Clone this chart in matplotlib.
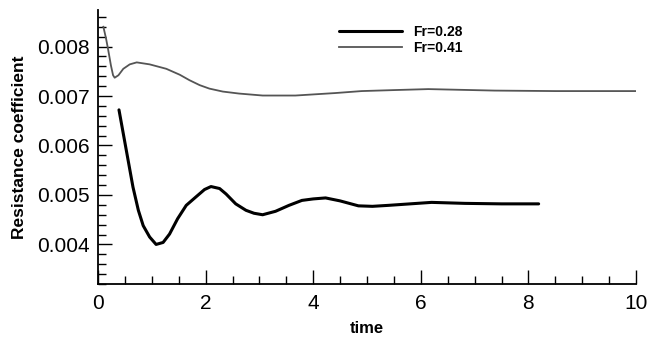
import matplotlib
matplotlib.use("Agg")
import matplotlib.pyplot as plt
from matplotlib.ticker import MultipleLocator, FormatStrFormatter

plt.rcParams['font.family'] = ['Liberation Sans', 'DejaVu Sans']

# Fr=0.28 (thick black)
t_028 = [0.39, 0.47, 0.56, 0.65, 0.75, 0.84, 0.96, 1.08, 1.21, 1.33, 1.48,
         1.64, 1.82, 1.98, 2.10, 2.26, 2.38, 2.56, 2.75, 2.90, 3.06, 3.30,
         3.55, 3.79, 4.00, 4.23, 4.50, 4.84, 5.10, 5.40, 5.80, 6.20, 6.82,
         7.50, 8.19]
cr_028 = [0.00672, 0.00624, 0.00570, 0.00516, 0.00469, 0.00438, 0.00415,
          0.00400, 0.00404, 0.00421, 0.00452, 0.00479, 0.00496, 0.00511,
          0.00517, 0.00513, 0.00502, 0.00482, 0.00469, 0.00463, 0.00460,
          0.00467, 0.00479, 0.00489, 0.00492, 0.00494, 0.00488, 0.00478,
          0.00477, 0.00479, 0.00482, 0.00485, 0.00483, 0.00482, 0.00482]

# Fr=0.41 (thin gray)
t_041 = [0.10, 0.15, 0.19, 0.24, 0.28, 0.31, 0.38, 0.47, 0.59, 0.72, 0.96,
         1.27, 1.52, 1.70, 1.89, 2.07, 2.32, 2.62, 3.06, 3.67, 4.41, 4.90,
         5.50, 6.14, 7.37, 8.50, 10.0]
cr_041 = [0.00840, 0.00816, 0.00793, 0.00762, 0.00742, 0.00737, 0.00742,
          0.00755, 0.00764, 0.00768, 0.00764, 0.00755, 0.00743, 0.00732,
          0.00722, 0.00715, 0.00709, 0.00705, 0.00701, 0.00701, 0.00706,
          0.00710, 0.00712, 0.00714, 0.00711, 0.00710, 0.00710]

fig = plt.figure(figsize=(6.49, 3.43), dpi=100)
ax = fig.add_axes([0.151, 0.172, 0.829, 0.799])

ax.plot(t_028, cr_028, color='black', lw=2.2, label='Fr=0.28',
        solid_joinstyle='round', solid_capstyle='round')
ax.plot(t_041, cr_041, color='#555555', lw=1.3, label='Fr=0.41',
        solid_joinstyle='round')

ax.set_xlim(0, 10)
ax.set_ylim(0.0032, 0.00874)

ax.xaxis.set_major_locator(MultipleLocator(2))
ax.xaxis.set_minor_locator(MultipleLocator(0.5))
ax.yaxis.set_major_locator(MultipleLocator(0.001))
ax.yaxis.set_minor_locator(MultipleLocator(0.0002))
ax.yaxis.set_major_formatter(FormatStrFormatter('%.3f'))

for s in ['top', 'right']:
    ax.spines[s].set_visible(False)
for s in ['left', 'bottom']:
    ax.spines[s].set_linewidth(1.3)

ax.tick_params(which='major', direction='in', length=10, width=1.0,
               labelsize=15)
ax.tick_params(which='minor', direction='in', length=6, width=1.0)
ax.tick_params(axis='x', which='major', pad=7)
ax.tick_params(axis='y', which='major', pad=6)

ax.set_xlabel('time', fontsize=12, fontweight='bold', labelpad=6)
ax.set_ylabel('Resistance coefficient', fontsize=12.5, fontweight='bold',
              labelpad=7)

leg = ax.legend(loc='upper left', bbox_to_anchor=(0.425, 0.99), frameon=False,
                handlelength=4.5, handletextpad=0.8, labelspacing=0.1,
                prop={'size': 10, 'weight': 'bold'})

fig.savefig('out.png', dpi=100)
